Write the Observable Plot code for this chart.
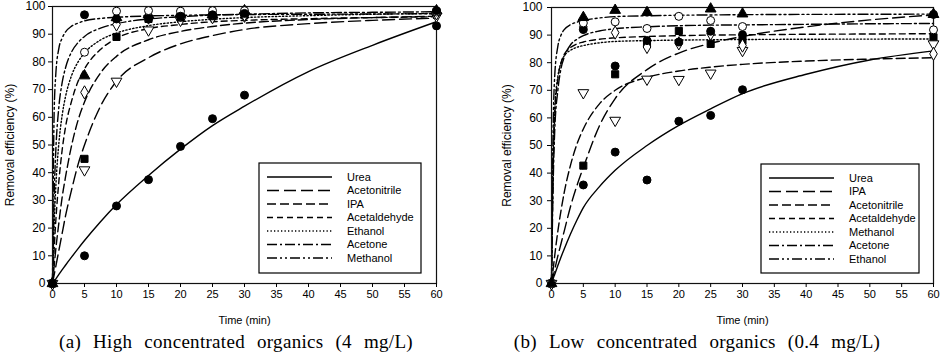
<!DOCTYPE html>
<html><head><meta charset="utf-8">
<script src="https://cdn.jsdelivr.net/npm/d3@7"></script>
<script src="https://cdn.jsdelivr.net/npm/@observablehq/plot@0.6"></script>
<style>
html,body{margin:0;padding:0;background:#fff;}
body{width:943px;height:358px;overflow:hidden;position:relative;font-family:"Liberation Sans",Arial,sans-serif;}
.panel{position:absolute;top:0;}
.caption{position:absolute;top:331px;font-family:"Liberation Serif","Times New Roman",serif;font-size:19px;word-spacing:7px;letter-spacing:0.3px;white-space:pre;transform:translateX(-50%);color:#000;}
</style>
</head><body>
<div id="pa" class="panel" style="left:0px"></div>
<div id="pb" class="panel" style="left:471px"></div>
<div class="caption" style="left:236px">(a) High concentrated organics (4 mg/L)</div>
<div class="caption" style="left:697px">(b) Low concentrated organics (0.4 mg/L)</div>
<script>
// ---- shared ticks / times ----
const xTicks = [0, 5, 10, 15, 20, 25, 30, 35, 40, 45, 50, 55, 60];
const yTicks = [0, 10, 20, 30, 40, 50, 60, 70, 80, 90, 100];
const fitTimes = [0, 0.25, 0.5, 1, 1.5, 2, 3, 4, 5, 7.5, 10, 15, 20, 25, 30, 40, 50, 60];
const sampleTimes = [0, 5, 10, 15, 20, 25, 30, 60];

// ---- panel (a): high concentration (4 mg/L) ----
const legendA = ["Urea", "Acetonitrile", "IPA", "Acetaldehyde", "Ethanol", "Acetone", "Methanol"];
const aFitUrea         = [0, 0.8, 1.6, 3.3, 4.9, 6.5, 9.6, 12.6, 15.5, 22.3, 28.5, 39, 48.5, 57, 64, 76.5, 86, 94.5];
const aFitAcetonitrile = [0, 3, 6, 12, 18, 24, 34, 43, 50, 64, 73, 81.5, 86.5, 89.5, 91.7, 93.8, 95, 95.8];
const aFitIPA          = [0, 6, 12, 22, 31, 38, 50, 59, 65.5, 76, 82, 88, 91, 92.8, 94, 95.3, 96, 96.5];
const aFitAcetaldehyde = [0, 12, 22, 37, 48, 56, 66, 73, 77.5, 84.5, 88.5, 92, 93.5, 94.5, 95, 95.6, 96, 96.3];
const aFitEthanol      = [0, 20.6, 34.1, 50.8, 60.6, 67.1, 75.2, 80, 83.2, 87.9, 90.4, 93.1, 94.5, 95.4, 96, 96.7, 97.2, 97.5];
const aFitAcetone      = [0, 30.9, 47.1, 63.9, 72.4, 77.6, 83.7, 87, 89.2, 92.2, 93.8, 95.5, 96.3, 96.9, 97.2, 97.7, 97.9, 98.1];
const aFitMethanol     = [0, 61, 75, 85, 88.5, 90.7, 92.9, 94, 94.8, 95.7, 96.1, 96.6, 96.8, 97, 97.1, 97.2, 97.3, 97.4];

const aPtsUrea         = [0, 10, 28, 37.5, 49.5, 59.5, 68, 93];
const aPtsAcetonitrile = [0, 41, 73, 91.5, 95, 96, 96.5, 96.5];
const aPtsIPA          = [0, 45, 89, 95.5, 96, 96.5, 97, 98];
const aPtsAcetaldehyde = [0, 69, 93.5, 96, 97, 97.5, 97, 97.5];
const aPtsEthanol      = [0, 75, 96, 97, 97.5, 97, 98.5, 98.5];
const aPtsAcetone      = [0, 83.5, 98.3, 98.5, 98.3, 98.5, 98.5, 98];
const aPtsMethanol     = [0, 97, 95.5, 95.5, 96.5, 97, 97.5, 98.5];

// ---- panel (b): low concentration (0.4 mg/L) ----
const legendB = ["Urea", "IPA", "Acetonitrile", "Acetaldehyde", "Methanol", "Acetone", "Ethanol"];
const bFitUrea         = [0, 1.7, 3.3, 6.5, 9.6, 12.5, 18, 23, 27.5, 35, 41, 50, 57.3, 63.3, 68.8, 75.8, 81, 84.3];
const bFitIPA          = [0, 2.5, 5, 10, 14.5, 19, 28, 35.5, 42, 57, 67, 77.5, 83.5, 87, 89.5, 93, 95.5, 97.3];
const bFitAcetonitrile = [0, 5, 10, 19, 26.5, 33, 43, 50.5, 56, 65, 70, 74.7, 77, 78.4, 79.4, 80.6, 81.3, 81.8];
const bFitAcetaldehyde = [0, 40, 60, 74, 80, 83, 85.5, 86.8, 87.5, 88.5, 89, 89.5, 89.8, 90, 90.1, 90.3, 90.4, 90.5];
const bFitMethanol     = [0, 45, 63, 75, 80, 82.5, 84.5, 85.6, 86.2, 87.2, 87.7, 88, 88.2, 88.3, 88.4, 88.5, 88.55, 88.6];
const bFitAcetone      = [0, 35, 55, 70, 78, 82, 86.5, 88.5, 89.8, 91.5, 92.3, 93, 93.4, 93.6, 93.7, 93.9, 94.1, 94.2];
const bFitEthanol      = [0, 55, 75, 86, 90, 92, 93.8, 94.7, 95.3, 96.2, 96.7, 97, 97.2, 97.3, 97.4, 97.5, 97.55, 97.6];

const bPtsUrea         = [0, 35.7, 47.6, 37.5, 58.8, 60.9, 70.2, null];
const bPtsIPA          = [0, 42.7, 75.8, 87, 91.5, 86.8, 88, 89.2];
const bPtsAcetonitrile = [0, 69.1, 59.1, 74, 73.9, 76.2, 84.4, 86.8];
const bPtsAcetaldehyde = [0, 93, 90.9, 85.7, 87, 90.5, 86.2, 83.2];
const bPtsMethanol     = [0, 92, 78.8, 88, 87.5, 91.4, 90.1, 97.5];
const bPtsAcetone      = [0, 94.4, 94.8, 92.4, 96.8, 95.3, 93.1, 91.9];
const bPtsEthanol      = [0, 96.4, 99, 98.2, null, 99.5, 97.7, 97.5];

// ---- styles (by legend position) ----
const dashes = [null, "12,5", "9,4", "6,4", "1.3,2.2", "10,3,2,3", "10,3,2,3,2,3"];
const triangleDown = {
  draw(ctx, size) {
    const y = -Math.sqrt(size / (Math.sqrt(3) * 3));
    ctx.moveTo(0, -y * 2);
    ctx.lineTo(-Math.sqrt(3) * y, y);
    ctx.lineTo(Math.sqrt(3) * y, y);
    ctx.closePath();
  }
};
const markers = {
  Urea: {symbol: "circle", fill: "black"},
  Acetonitrile: {symbol: triangleDown, fill: "white"},
  IPA: {symbol: "square", fill: "black"},
  Acetaldehyde: {symbol: "diamond", fill: "white"},
  Ethanol: {symbol: "triangle", fill: "black"},
  Acetone: {symbol: "circle", fill: "white"},
  Methanol: {symbol: "circle", fill: "black"}
};

function panel(el, names, fits, pts, opts) {
  const lineMarks = fits.map((vals, i) =>
    Plot.line(fitTimes.map((t, j) => ({t, v: vals[j]})), {
      x: "t", y: "v", stroke: "black", strokeWidth: 1.4,
      strokeDasharray: dashes[i] || undefined, curve: "monotone-x"
    }));
  const dotMarks = pts.map((vals, i) => {
    const m = markers[names[i]];
    return Plot.dot(sampleTimes.map((t, j) => ({t, v: vals[j]})).filter(d => d.v != null), {
      x: "t", y: "v", symbol: () => m.symbol, r: 4, fill: m.fill, stroke: "black", strokeWidth: 1
    });
  });
  const chart = Plot.plot({
    width: opts.width, height: 330,
    marginLeft: opts.ml, marginRight: opts.mr, marginTop: opts.mt, marginBottom: 47,
    style: {fontFamily: "Liberation Sans, Arial, sans-serif", fontSize: "11px", color: "#000", background: "white", overflow: "visible"},
    x: {domain: [0, 60]},
    y: {domain: [0, 100]},
    symbol: {type: "identity"},
    marks: [
      ...lineMarks,
      Plot.frame({stroke: "#111", strokeWidth: 1.2}),
      Plot.axisX({ticks: xTicks, tickSize: 4, tickPadding: 3, tickFormat: d => d, label: "Time (min)", labelArrow: "none", labelAnchor: "center", labelOffset: 40, fontSize: 11}),
      Plot.axisY({ticks: yTicks, tickSize: 4, tickPadding: opts.tp, tickFormat: d => d, label: "Removal efficiency (%)", labelArrow: "none", labelAnchor: "center", labelOffset: opts.lo, fontSize: 12}),
      ...dotMarks
    ]
  });
  // legend box (layout only)
  const svg = d3.select(chart);
  const g = svg.append("g").attr("text-anchor", "start");
  const L = opts.legend;
  g.append("rect").attr("x", L.x).attr("y", L.y).attr("width", L.w).attr("height", L.h)
    .attr("fill", "white").attr("stroke", "black").attr("stroke-width", 1.2);
  names.forEach((n, i) => {
    const yy = L.y + 14 + i * 13.5;
    g.append("line").attr("x1", L.x + 8).attr("x2", L.x + 73).attr("y1", yy).attr("y2", yy)
      .attr("stroke", "black").attr("stroke-width", 1.4).attr("stroke-dasharray", dashes[i] || null);
    g.append("text").attr("x", L.x + 88).attr("y", yy).attr("dy", "0.35em").attr("text-anchor", "start")
      .attr("font-size", 11).attr("font-family", "Liberation Sans, Arial, sans-serif").attr("fill", "black").text(n);
  });
  document.getElementById(el).appendChild(chart);
}

panel("pa", legendA,
  [aFitUrea, aFitAcetonitrile, aFitIPA, aFitAcetaldehyde, aFitEthanol, aFitAcetone, aFitMethanol],
  [aPtsUrea, aPtsAcetonitrile, aPtsIPA, aPtsAcetaldehyde, aPtsEthanol, aPtsAcetone, aPtsMethanol],
  {width: 471, ml: 52, mr: 35, mt: 6, tp: 3, lo: 47, legend: {x: 259, y: 163, w: 162, h: 110}});

panel("pb", legendB,
  [bFitUrea, bFitIPA, bFitAcetonitrile, bFitAcetaldehyde, bFitMethanol, bFitAcetone, bFitEthanol],
  [bPtsUrea, bPtsIPA, bPtsAcetonitrile, bPtsAcetaldehyde, bPtsMethanol, bPtsAcetone, bPtsEthanol],
  {width: 472, ml: 80, mr: 10, mt: 7, tp: 5, lo: 49, legend: {x: 290, y: 164, w: 158, h: 109}});
</script>
</body></html>
